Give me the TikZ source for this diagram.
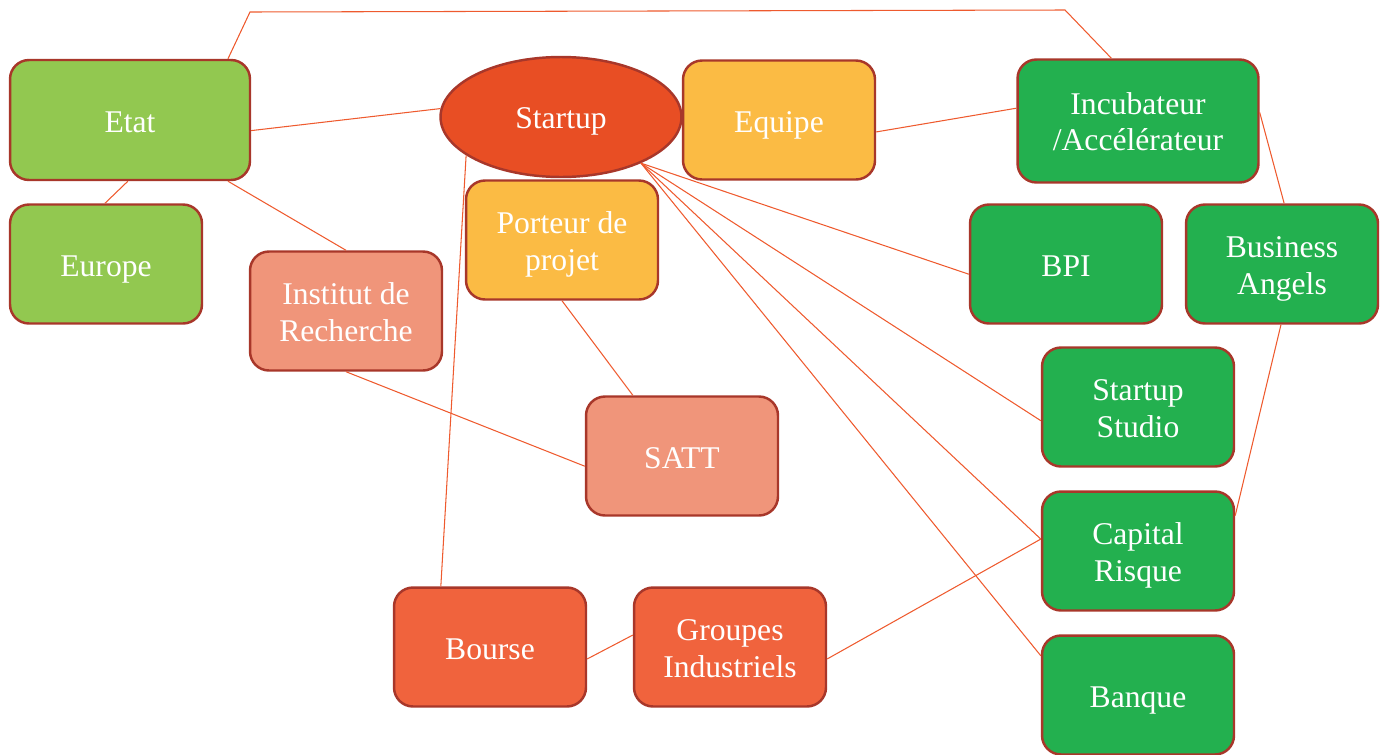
\documentclass[tikz,border=0pt]{standalone}
\usepackage{fontspec}
\setmainfont{Liberation Serif}
\usetikzlibrary{shapes.geometric}

\definecolor{boxline}{HTML}{A8372A}
\definecolor{linkred}{HTML}{EE5A2E}
\definecolor{lightgreen}{HTML}{92C850}
\definecolor{darkgreen}{HTML}{23B04F}
\definecolor{startupred}{HTML}{E84E24}
\definecolor{teamorange}{HTML}{FBBB44}
\definecolor{salmon}{HTML}{F0957A}
\definecolor{marketred}{HTML}{F0633D}

\begin{document}
\begin{tikzpicture}[x=0.02cm, y=-0.02cm,
  box/.style={draw=boxline, line width=1.4pt, rounded corners=0.38cm,
    text=white, align=center, inner sep=2pt,
    minimum width=3.84cm, minimum height=2.38cm,
    font=\fontsize{18}{21}\selectfont,
    text height=0.48cm, text depth=0pt},
  twoline/.style={text height=1.2cm},
  link/.style={draw=linkred, line width=0.6pt}]

  % Page size
  \useasboundingbox (0,0) rectangle (1385,754);

  % Public side
  \node[box, fill=lightgreen, minimum width=4.8cm, minimum height=2.4cm] (etat) at (130,120) {Etat};
  \node[box, fill=lightgreen] (europe) at (106,264) {Europe};
  \node[box, twoline, fill=salmon] (institut) at (346,311) {Institut de\\Recherche};
  \node[box, fill=salmon] (satt) at (682,456) {SATT};

  % Startup and its people
  \node[ellipse, draw=boxline, line width=1.4pt, fill=startupred, text=white,
    minimum width=4.82cm, minimum height=2.4cm,
    font=\fontsize{18}{21}\selectfont,
    text height=0.46cm, text depth=0pt] (startup) at (561,117) {Startup};
  \node[box, fill=teamorange] (equipe) at (779,120) {Equipe};
  \node[box, twoline, fill=teamorange] (porteur) at (562,240) {Porteur de\\projet};

  % Funding side
  \node[box, twoline, fill=darkgreen, minimum width=4.82cm, minimum height=2.46cm] (incub) at (1138,121) {Incubateur\\/Accélérateur};
  \node[box, fill=darkgreen] (bpi) at (1066,264) {BPI};
  \node[box, twoline, fill=darkgreen] (angels) at (1282,264) {Business\\Angels};
  \node[box, twoline, fill=darkgreen] (studio) at (1138,407) {Startup\\Studio};
  \node[box, twoline, fill=darkgreen] (capital) at (1138,551) {Capital\\Risque};
  \node[box, fill=darkgreen] (banque) at (1138,695) {Banque};

  % Market side
  \node[box, fill=marketred] (bourse) at (490,647) {Bourse};
  \node[box, twoline, fill=marketred] (groupes) at (730,647) {Groupes\\Industriels};

  % Top link Etat -> Incubateur
  \coordinate (topleft) at (250,12);
  \coordinate (topright) at (1065,10);
  \draw[link] (etat.32) -- (topleft) -- (topright) -- (incub.113);

  % Links from Etat
  \draw[link] (etat.-5) -- (startup.176);
  \draw[link] (etat.-92) -- (europe.91);
  \draw[link] (etat.-32) -- (institut.north);

  % Links from Startup
  \draw[link] (startup.-158) -- (bourse.129.5);
  \draw[link] (startup.-30) -- (bpi.-174);
  \draw[link] (startup.-30) -- (studio.-172);
  \draw[link] (startup.-30) -- (capital.173);
  \draw[link] (startup.-30) -- (banque.158);

  % Other links
  \draw[link] (equipe.-7) -- (incub.174);
  \draw[link] (porteur.south) -- (satt.129.5);
  \draw[link] (institut.south) -- (satt.-174);
  \draw[link] (bourse.-7.4) -- (groupes.173);
  \draw[link] (groupes.-7.4) -- (capital.173);
  \draw[link] (incub.4) -- (angels.88);
  \draw[link] (angels.-91) -- (capital.20);

\end{tikzpicture}
\end{document}
